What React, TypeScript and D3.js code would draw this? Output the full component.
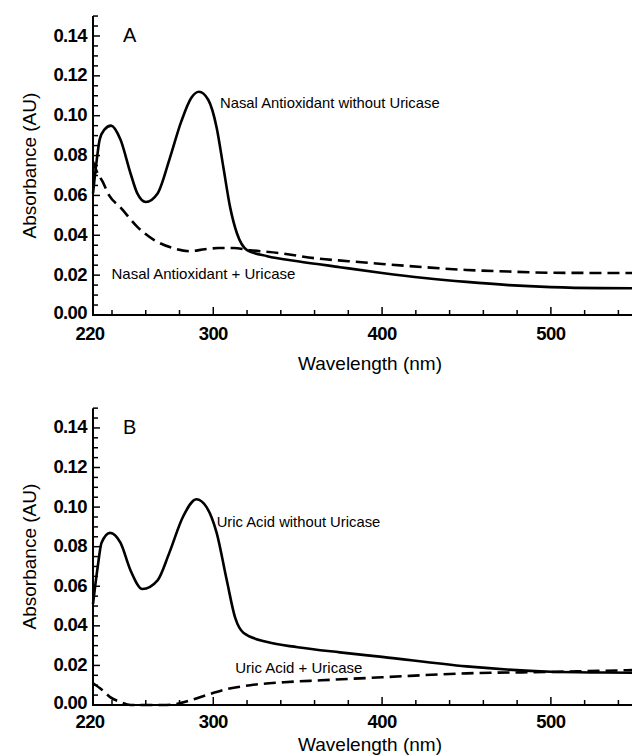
import React from 'react';
import * as d3 from 'd3';

// wavelength (nm) / absorbance (AU)
const nasalNoUricaseNm = [220, 224, 227, 232, 239, 245, 251, 255, 260, 267, 274, 281, 287, 291.5, 297, 302, 306, 310, 314, 320, 332, 350, 375, 400, 425, 450, 475, 500, 530, 560];
const nasalNoUricaseAbs = [0.061, 0.078, 0.088, 0.093, 0.095, 0.088, 0.071, 0.061, 0.0567, 0.061, 0.078, 0.097, 0.109, 0.112, 0.108, 0.094, 0.074, 0.054, 0.041, 0.0326, 0.0295, 0.027, 0.024, 0.0211, 0.0186, 0.0166, 0.015, 0.014, 0.0135, 0.0134];

const nasalUricaseNm = [220, 224, 230, 237, 245, 255, 265, 276, 286, 295, 303, 312, 322, 340, 360, 380, 400, 425, 450, 475, 500, 530, 560];
const nasalUricaseAbs = [0.077, 0.072, 0.067, 0.06, 0.054, 0.0442, 0.0376, 0.0336, 0.032, 0.033, 0.0336, 0.0336, 0.0325, 0.031, 0.0285, 0.027, 0.0256, 0.024, 0.0226, 0.0218, 0.0212, 0.0211, 0.0211];

const uricNoUricaseNm = [220, 225, 229, 238, 245, 251, 258, 267, 274, 282, 290, 296, 302, 308, 313, 318, 332, 350, 375, 400, 450, 500, 530, 560];
const uricNoUricaseAbs = [0.051, 0.07, 0.082, 0.087, 0.082, 0.068, 0.0586, 0.063, 0.077, 0.095, 0.104, 0.1, 0.087, 0.063, 0.044, 0.0364, 0.0318, 0.0292, 0.0266, 0.0243, 0.0195, 0.0168, 0.0164, 0.0162];

const uricUricaseNm = [220, 230, 238, 245, 251, 260, 270, 278, 287, 296, 308, 322, 342, 364, 400, 450, 500, 530, 560];
const uricUricaseAbs = [0.011, 0.0075, 0.004, 0.0015, 0.0, 0.0, 0.0, 0.0005, 0.0025, 0.005, 0.008, 0.01, 0.0115, 0.0125, 0.014, 0.016, 0.0167, 0.0173, 0.0178];

const xTickLabels = [220, 300, 400, 500];
const xMinorTicks = [240, 260, 280, 320, 340, 360, 380, 420, 440, 460, 480, 520, 540];
const yTickLabels = [0, 0.02, 0.04, 0.06, 0.08, 0.1, 0.12, 0.14];
const yMinorStep = 0.005;

const panelLetters = ['A', 'B'];
const solidLabels = ['Nasal Antioxidant without Uricase', 'Uric Acid without Uricase'];
const dashedLabels = ['Nasal Antioxidant + Uricase', 'Uric Acid + Uricase'];
// label anchors in data units [nm, AU]
const solidLabelPos = [[304, 0.104], [302, 0.09]];
const dashedLabelPos = [[239.5, 0.018], [313, 0.0162]];

const font = '"Liberation Sans", Arial, Helvetica, sans-serif';

const zip = (xs: number[], ys: number[]) => xs.map((x, i) => [x, ys[i]] as [number, number]);

const panels = [
  { solid: zip(nasalNoUricaseNm, nasalNoUricaseAbs), dashed: zip(nasalUricaseNm, nasalUricaseAbs), y0: 315, perUnit: 1993, tickDy: 25, titleY: 370 },
  { solid: zip(uricNoUricaseNm, uricNoUricaseAbs), dashed: zip(uricUricaseNm, uricUricaseAbs), y0: 705, perUnit: 1979, tickDy: 22.5, titleY: 751 },
];

// the original axis squeezes 220-240
const x = d3.scaleLinear().domain([220, 240, 560]).range([93, 112, 112 + 320 * 1.688]);

const Panel = ({ p, i }: { p: typeof panels[number]; i: number }) => {
  const y = d3.scaleLinear().domain([0, 0.15]).range([p.y0, p.y0 - 0.15 * p.perUnit]);
  const line = d3.line<[number, number]>()
    .x(d => x(d[0]))
    .y(d => y(d[1]))
    .curve(d3.curveMonotoneX);
  const yMinor = d3.range(0, 0.1501, yMinorStep);
  const xl = x(220);

  return (
    <g>
      {/* curves */}
      <path d={line(p.solid) || ''} fill="none" stroke="#000" strokeWidth={2.6} />
      <path d={line(p.dashed) || ''} fill="none" stroke="#000" strokeWidth={2.6} strokeDasharray="12,6" />

      {/* axes */}
      <line x1={xl} x2={632} y1={y(0)} y2={y(0)} stroke="#000" strokeWidth={2} />
      <line x1={xl} x2={xl} y1={y(0) + 1} y2={y(0.15)} stroke="#000" strokeWidth={2} />
      {yMinor.map(v => {
        const major = Math.abs(v / 0.02 - Math.round(v / 0.02)) < 1e-6;
        return <line key={v} x1={xl} x2={xl + (major ? 7 : 5)} y1={y(v)} y2={y(v)} stroke="#000" strokeWidth={1.5} />;
      })}
      {xMinorTicks.map(t => (
        <line key={t} x1={x(t)} x2={x(t)} y1={y(0)} y2={y(0) - 5} stroke="#000" strokeWidth={1.5} />
      ))}
      {xTickLabels.filter(t => t !== 220).map(t => (
        <line key={t} x1={x(t)} x2={x(t)} y1={y(0)} y2={y(0) - 8} stroke="#000" strokeWidth={1.5} />
      ))}

      {/* tick labels */}
      {yTickLabels.map(v => (
        <text key={v} x={87} y={y(v)} dy={v === 0 ? '0.22em' : '0.3em'} textAnchor="end" fontFamily={font} fontWeight="bold" fontSize={18.5} letterSpacing={-0.6}>
          {v.toFixed(2)}
        </text>
      ))}
      {xTickLabels.map(t => (
        <text key={t} x={t === 220 ? 90 : x(t)} y={y(0) + p.tickDy} textAnchor="middle" fontFamily={font} fontWeight="bold" fontSize={18.5} letterSpacing={-0.6}>
          {t}
        </text>
      ))}

      {/* titles */}
      <text transform={`translate(36,${y(0.075)}) rotate(-90)`} textAnchor="middle" fontFamily={font} fontSize={19}>Absorbance (AU)</text>
      <text x={370} y={p.titleY} textAnchor="middle" fontFamily={font} fontSize={19}>Wavelength (nm)</text>
      <text x={123} y={y(0.14) - 1} dy="0.36em" fontFamily={font} fontSize={20}>{panelLetters[i]}</text>

      {/* annotations */}
      <text x={x(solidLabelPos[i][0])} y={y(solidLabelPos[i][1])} fontFamily={font} fontSize={14.8}>{solidLabels[i]}</text>
      <text x={x(dashedLabelPos[i][0])} y={y(dashedLabelPos[i][1])} fontFamily={font} fontSize={15}>{dashedLabels[i]}</text>
    </g>
  );
};

export default function App() {
  return (
    <svg width={632} height={756} style={{ position: 'absolute', left: 0, top: 0, background: '#fff' }}>
      <rect width={632} height={756} fill="#fff" />
      {panels.map((p, i) => <Panel key={i} p={p} i={i} />)}
    </svg>
  );
}
